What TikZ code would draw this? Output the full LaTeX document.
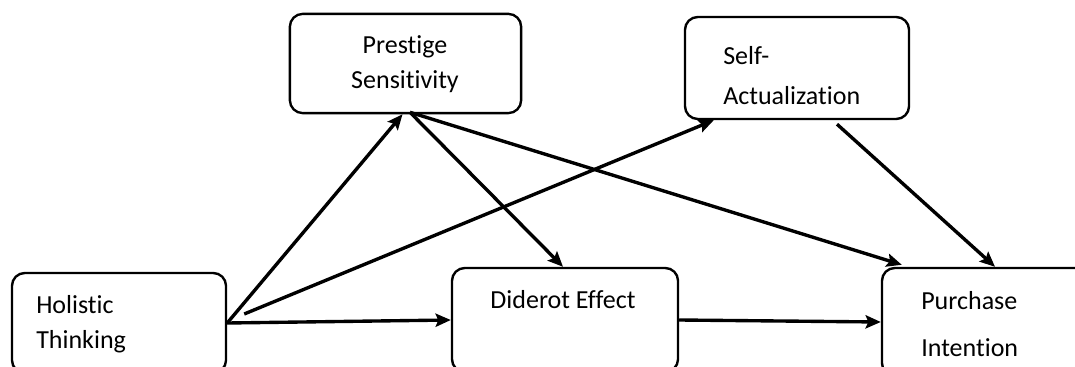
\documentclass[tikz,border=0pt]{standalone}
\usepackage{fontspec}
\setmainfont{Carlito}[Ligatures=NoCommon]
\usetikzlibrary{arrows.meta,calc}

\begin{document}
\begin{tikzpicture}[x=0.025cm, y=-0.025cm,
  >={Stealth[length=3.8mm, width=3.3mm, inset=0.7mm]},
  box/.style={draw, line width=1.7pt, rounded corners=0.32cm, inner sep=0pt},
  lbl/.style={inner sep=0pt, font=\fontsize{18.5}{22}\selectfont},
  link/.style={->, line width=2.4pt}]
% ---- frame ----
\useasboundingbox (0,0) rectangle (1075,367);
\clip (0,0) rectangle (1075,367);
% ---- boxes ----
\node[box, minimum width=5.35cm, minimum height=2.5cm] (holistic) at (119,323) {};
\node[box, minimum width=5.78cm, minimum height=2.48cm] (prestige) at (405.5,63.5) {};
\node[box, minimum width=5.6cm, minimum height=2.55cm] (self) at (797,68) {};
\node[box, minimum width=5.65cm, minimum height=2.6cm] (diderot) at (565,320) {};
\node[box, minimum width=5.7cm, minimum height=2.7cm] (purchase) at (996,322) {};
% ---- texts ----
\node[lbl, anchor=base west] (holistic-a) at (36,313) {Holistic};
\node[lbl, anchor=base west] (holistic-b) at (36,348) {Thinking};
\node[lbl, anchor=base] (prestige-a) at (405,54) {Prestige};
\node[lbl, anchor=base] (prestige-b) at (405,89) {Sensitivity};
\node[lbl, anchor=base west] (self-a) at (723,65) {Self-};
\node[lbl, anchor=base west] (self-b) at (723,105) {Actualization};
\node[lbl, anchor=base] (diderot-a) at (563,308) {Diderot Effect};
\node[lbl, anchor=base west] (purchase-a) at (921,309) {Purchase};
\node[lbl, anchor=base west] (purchase-b) at (921,356) {Intention};
% ---- free ends ----
\coordinate (h-self) at ($(holistic.east)+(17,-9)$);
\coordinate (p-out) at ($(prestige.south)+(4.5,-2)$);
\coordinate (s-out) at ($(self.south)+(40,4)$);
% ---- paths ----
\draw[link] (holistic.east) -- (diderot.west);
\draw[link] (holistic.east) -- ($(prestige.south)+(-3,0)$);
\draw[link] (h-self) -- ($(self.south west)+(30,0)$);
\draw[link] (p-out) -- ($(diderot.north)+(-2,0)$);
\draw[link] (p-out) -- ($(purchase.north west)+(21,-2)$);
\draw[link] (s-out) -- ($(purchase.north)+(-1,0)$);
\draw[link] (diderot.east) -- (purchase.west);
\end{tikzpicture}
\end{document}
